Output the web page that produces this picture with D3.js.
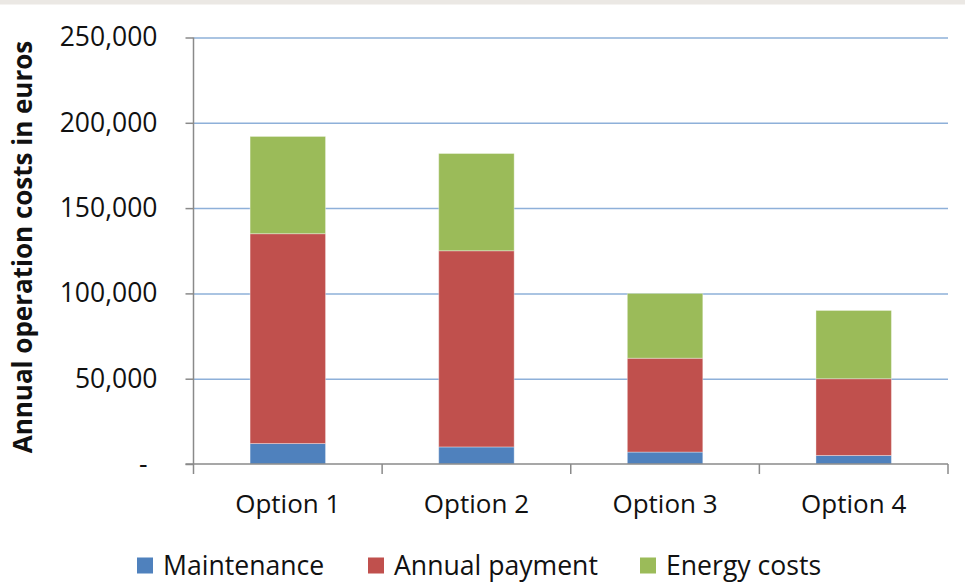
<!DOCTYPE html>
<html>
<head>
<meta charset="utf-8">
<script src="https://cdn.jsdelivr.net/npm/d3@7"></script>
<style>
  html, body { margin: 0; padding: 0; background: #fff; }
  svg { display: block; font-family: "Open Sans", sans-serif; }
</style>
</head>
<body>
<svg id="chart" width="965" height="583"></svg>
<script>
// Annual operation costs per option, stacked by cost type (euros)
const categories = ["Option 1", "Option 2", "Option 3", "Option 4"];
const seriesNames = ["Maintenance", "Annual payment", "Energy costs"];
const maintenance = [12000, 10000, 7000, 5000];
const annualPayment = [123000, 115000, 55000, 45000];
const energyCosts = [57000, 57000, 38000, 40000];
const yTicks = [0, 50000, 100000, 150000, 200000, 250000];
const colors = ["#4f81bd", "#c0504d", "#9bbb59"];

(function () {
  const svg = d3.select("#chart");
  const W = 965;

  // thin band along the top edge
  svg.append("rect").attr("x", 0).attr("y", 0).attr("width", W).attr("height", 4.5).attr("fill", "#ebe8e4");

  const plotL = 193.5, plotR = 948, plotT = 37.5, plotB = 464;

  const y = d3.scaleLinear().domain([0, 250000]).range([plotB, plotT]);
  const xCat = d3.scaleBand().domain(categories).range([plotL, plotR]).padding(0);
  const xBar = d3.scaleBand().domain(categories).range([plotL, plotR]).paddingInner(0.6).paddingOuter(0.3);

  // horizontal gridlines
  svg.append("g")
    .attr("transform", `translate(${plotL},0)`)
    .call(d3.axisRight(y).tickValues(yTicks.filter(d => d > 0)).tickSize(plotR - plotL).tickFormat(""))
    .call(g => g.select(".domain").remove())
    .call(g => g.selectAll("line").attr("stroke", "#8eb0d9").attr("stroke-width", 1.5));

  // stacked bars
  const rows = categories.map((c, i) => ({
    cat: c,
    "Maintenance": maintenance[i],
    "Annual payment": annualPayment[i],
    "Energy costs": energyCosts[i]
  }));
  const stacked = d3.stack().keys(seriesNames)(rows);

  svg.append("g").selectAll("g")
    .data(stacked)
    .join("g")
    .attr("fill", (d, i) => colors[i])
    .selectAll("rect")
    .data(d => d)
    .join("rect")
    .attr("x", d => xBar(d.data.cat))
    .attr("width", xBar.bandwidth())
    .attr("y", d => y(d[1]))
    .attr("height", d => y(d[0]) - y(d[1]))
    .attr("stroke", "rgba(255,255,255,0.35)")
    .attr("stroke-width", 1);

  // y axis
  const yAxis = svg.append("g")
    .attr("transform", `translate(${plotL},0)`)
    .call(d3.axisLeft(y).tickValues(yTicks).tickSize(8).tickPadding(28)
      .tickFormat(d => d === 0 ? "-" : d3.format(",")(d)))
    .call(g => g.select(".domain").attr("d", `M0,${plotT}V${plotB}`).attr("stroke", "#8a8a8a").attr("stroke-width", 1.5))
    .call(g => g.selectAll(".tick line").attr("stroke", "#8a8a8a").attr("stroke-width", 1.5))
    .call(g => g.selectAll("text").attr("font-size", 26.5).attr("fill", "#111")
      .attr("font-family", "'Open Sans', sans-serif"));
  yAxis.selectAll(".tick").filter(d => d === 0).select("text").attr("dx", -10);

  // x axis with category boundary ticks
  const xAxis = svg.append("g").attr("transform", `translate(0,${plotB})`);
  xAxis.append("line").attr("x1", plotL - 8).attr("x2", plotR).attr("y1", 0).attr("y2", 0)
    .attr("stroke", "#8a8a8a").attr("stroke-width", 1.5);
  const bounds = categories.map(c => xCat(c)).concat([plotR]);
  xAxis.selectAll("line.bt").data(bounds).join("line").attr("class", "bt")
    .attr("x1", d => d).attr("x2", d => d).attr("y1", 0).attr("y2", 10)
    .attr("stroke", "#8a8a8a").attr("stroke-width", 1.5);
  xAxis.selectAll("text").data(categories).join("text")
    .attr("x", d => xCat(d) + xCat.bandwidth() / 2)
    .attr("y", 49)
    .attr("text-anchor", "middle")
    .attr("font-size", 26)
    .attr("fill", "#111")
    .text(d => d);

  // y axis title
  svg.append("text")
    .attr("transform", "translate(32,247) rotate(-90)")
    .attr("text-anchor", "middle")
    .attr("font-size", 26)
    .attr("font-weight", "bold")
    .attr("fill", "#111")
    .text("Annual operation costs in euros");

  // legend
  const legendX = [137, 368, 640];
  const legend = svg.append("g").selectAll("g").data(seriesNames).join("g")
    .attr("transform", (d, i) => `translate(${legendX[i]},565.5)`);
  legend.append("rect").attr("x", 0).attr("y", -8).attr("width", 16).attr("height", 16)
    .attr("fill", (d, i) => colors[i]);
  legend.append("text").attr("x", 26).attr("y", 9.5).attr("font-size", 26.6).attr("fill", "#111").text(d => d);
})();
</script>
</body>
</html>
